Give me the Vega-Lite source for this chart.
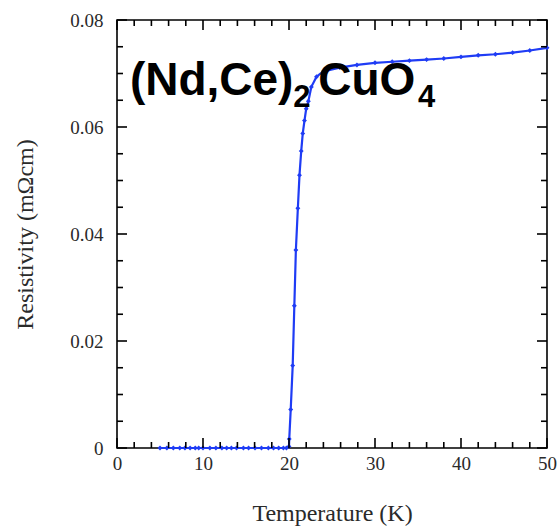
{
  "$schema": "https://vega.github.io/schema/vega-lite/v6.json",
  "width": 430,
  "height": 428,
  "autosize": {"type": "none"},
  "padding": {"left": 117, "top": 20, "right": 12, "bottom": 78},
  "background": "white",
  "config": {
    "view": {"stroke": "black", "strokeWidth": 1.6},
    "axis": {
      "labelFont": "Liberation Serif", "labelFontSize": 19, "labelColor": "#2a2a2a",
      "titleFont": "Liberation Serif", "titleFontSize": 24, "titleFontWeight": "normal", "titleColor": "#2a2a2a",
      "grid": false, "domain": false, "ticks": false
    },
    "tick": {"color": "black", "opacity": 1, "thickness": 1.6}
  },
  "datasets": {
    "rho": [
      {"T": 5.0, "R": 0.0}, {"T": 5.8, "R": 0.0}, {"T": 6.55, "R": 0.0}, {"T": 7.3, "R": 0.0},
      {"T": 7.9, "R": 0.0}, {"T": 8.5, "R": 0.0}, {"T": 9.1, "R": 0.0}, {"T": 9.5, "R": 0.0},
      {"T": 10.0, "R": 0.0}, {"T": 10.8, "R": 0.0}, {"T": 11.5, "R": 0.0}, {"T": 12.2, "R": 0.0},
      {"T": 12.75, "R": 0.0}, {"T": 13.3, "R": 0.0}, {"T": 13.9, "R": 0.0}, {"T": 14.7, "R": 0.0},
      {"T": 15.3, "R": 0.0}, {"T": 16.05, "R": 0.0}, {"T": 16.8, "R": 0.0}, {"T": 17.6, "R": 0.0},
      {"T": 18.2, "R": 0.0}, {"T": 18.8, "R": 0.0}, {"T": 19.35, "R": 0.0}, {"T": 19.7, "R": 0.0},
      {"T": 20.0, "R": 0.0003}, {"T": 20.03, "R": 0.0017}, {"T": 20.2, "R": 0.0072},
      {"T": 20.43, "R": 0.0154}, {"T": 20.62, "R": 0.0266}, {"T": 20.8, "R": 0.037},
      {"T": 21.03, "R": 0.0448}, {"T": 21.22, "R": 0.051}, {"T": 21.42, "R": 0.0555},
      {"T": 21.6, "R": 0.0588}, {"T": 21.8, "R": 0.0612}, {"T": 22.0, "R": 0.0634},
      {"T": 22.25, "R": 0.0648}, {"T": 22.6, "R": 0.0675}, {"T": 23.2, "R": 0.0694},
      {"T": 24.0, "R": 0.0704}, {"T": 25.9, "R": 0.0711}, {"T": 27.9, "R": 0.0716},
      {"T": 30.0, "R": 0.072}, {"T": 32.0, "R": 0.0722}, {"T": 34.0, "R": 0.0724},
      {"T": 36.0, "R": 0.0726}, {"T": 38.0, "R": 0.0728}, {"T": 40.0, "R": 0.0731},
      {"T": 42.0, "R": 0.0734}, {"T": 44.0, "R": 0.0736}, {"T": 46.0, "R": 0.0739},
      {"T": 48.0, "R": 0.0743}, {"T": 50.0, "R": 0.0748}
    ],
    "main": [
      {"T": 1.5, "R": 0.066, "txt": "(Nd,Ce)"},
      {"T": 23.4, "R": 0.066, "txt": "CuO"}
    ],
    "subs": [
      {"T": 20.5, "R": 0.0638, "txt": "2"},
      {"T": 35.0, "R": 0.0638, "txt": "4"}
    ],
    "xmaj": [{"v": 0}, {"v": 10}, {"v": 20}, {"v": 30}, {"v": 40}, {"v": 50}],
    "xmin": [{"v": 2}, {"v": 4}, {"v": 6}, {"v": 8}, {"v": 12}, {"v": 14}, {"v": 16}, {"v": 18}, {"v": 22}, {"v": 24},
             {"v": 26}, {"v": 28}, {"v": 32}, {"v": 34}, {"v": 36}, {"v": 38}, {"v": 42}, {"v": 44}, {"v": 46}, {"v": 48}],
    "ymaj": [{"v": 0}, {"v": 0.02}, {"v": 0.04}, {"v": 0.06}, {"v": 0.08}],
    "ymin": [{"v": 0.005}, {"v": 0.01}, {"v": 0.015}, {"v": 0.025}, {"v": 0.03}, {"v": 0.035},
             {"v": 0.045}, {"v": 0.05}, {"v": 0.055}, {"v": 0.065}, {"v": 0.07}, {"v": 0.075}]
  },
  "layer": [
    {
      "data": {"name": "rho"},
      "mark": {"type": "line", "color": "#1f3cf5", "strokeWidth": 2.2},
      "encoding": {
        "x": {
          "field": "T", "type": "quantitative",
          "scale": {"domain": [0, 50], "nice": false, "zero": false},
          "axis": {
            "orient": "bottom", "title": "Temperature (K)", "titlePadding": 28,
            "values": [0, 10, 20, 30, 40, 50], "labelPadding": 6, "labelFlush": false
          }
        },
        "y": {
          "field": "R", "type": "quantitative",
          "scale": {"domain": [0, 0.08], "nice": false, "zero": false},
          "axis": {
            "orient": "left", "title": "Resistivity (mΩcm)", "titlePadding": 32,
            "values": [0, 0.02, 0.04, 0.06, 0.08],
            "labelExpr": "datum.value == 0 ? '0' : format(datum.value, '.2f')",
            "labelPadding": 14, "labelFlush": false
          }
        }
      }
    },
    {
      "data": {"name": "rho"},
      "mark": {"type": "point", "shape": "diamond", "filled": true, "color": "#1f3cf5", "size": 24, "opacity": 1},
      "encoding": {
        "x": {"field": "T", "type": "quantitative"},
        "y": {"field": "R", "type": "quantitative"}
      }
    },
    {
      "data": {"name": "main"},
      "mark": {"type": "text", "align": "left", "baseline": "alphabetic", "font": "Liberation Sans", "fontWeight": "bold", "fontSize": 46, "color": "black"},
      "encoding": {
        "x": {"field": "T", "type": "quantitative"},
        "y": {"field": "R", "type": "quantitative"},
        "text": {"field": "txt"}
      }
    },
    {
      "data": {"name": "subs"},
      "mark": {"type": "text", "align": "left", "baseline": "alphabetic", "font": "Liberation Sans", "fontWeight": "bold", "fontSize": 31, "color": "black"},
      "encoding": {
        "x": {"field": "T", "type": "quantitative"},
        "y": {"field": "R", "type": "quantitative"},
        "text": {"field": "txt"}
      }
    },
    {
      "data": {"name": "xmaj"},
      "mark": {"type": "tick", "orient": "vertical", "size": 10, "yOffset": -5},
      "encoding": {"x": {"field": "v", "type": "quantitative"}, "y": {"datum": 0, "type": "quantitative"}}
    },
    {
      "data": {"name": "xmaj"},
      "mark": {"type": "tick", "orient": "vertical", "size": 10, "yOffset": 5},
      "encoding": {"x": {"field": "v", "type": "quantitative"}, "y": {"datum": 0.08, "type": "quantitative"}}
    },
    {
      "data": {"name": "xmin"},
      "mark": {"type": "tick", "orient": "vertical", "size": 6, "yOffset": -3},
      "encoding": {"x": {"field": "v", "type": "quantitative"}, "y": {"datum": 0, "type": "quantitative"}}
    },
    {
      "data": {"name": "xmin"},
      "mark": {"type": "tick", "orient": "vertical", "size": 6, "yOffset": 3},
      "encoding": {"x": {"field": "v", "type": "quantitative"}, "y": {"datum": 0.08, "type": "quantitative"}}
    },
    {
      "data": {"name": "ymaj"},
      "mark": {"type": "tick", "orient": "horizontal", "size": 10, "xOffset": 5},
      "encoding": {"y": {"field": "v", "type": "quantitative"}, "x": {"datum": 0, "type": "quantitative"}}
    },
    {
      "data": {"name": "ymaj"},
      "mark": {"type": "tick", "orient": "horizontal", "size": 10, "xOffset": -5},
      "encoding": {"y": {"field": "v", "type": "quantitative"}, "x": {"datum": 50, "type": "quantitative"}}
    },
    {
      "data": {"name": "ymin"},
      "mark": {"type": "tick", "orient": "horizontal", "size": 6, "xOffset": 3},
      "encoding": {"y": {"field": "v", "type": "quantitative"}, "x": {"datum": 0, "type": "quantitative"}}
    },
    {
      "data": {"name": "ymin"},
      "mark": {"type": "tick", "orient": "horizontal", "size": 6, "xOffset": -3},
      "encoding": {"y": {"field": "v", "type": "quantitative"}, "x": {"datum": 50, "type": "quantitative"}}
    }
  ]
}
